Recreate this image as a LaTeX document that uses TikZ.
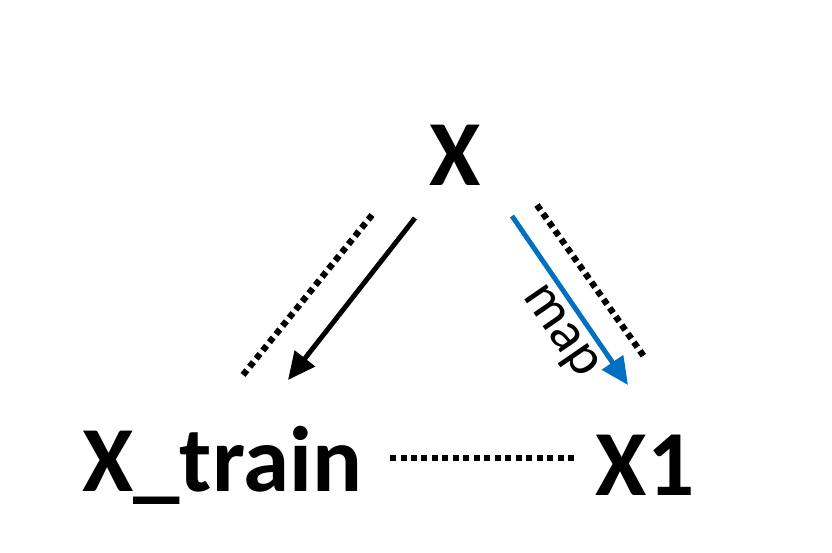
\documentclass[tikz,border=0pt]{standalone}
\usepackage{fontspec}
\setmainfont{Carlito}
\usetikzlibrary{arrows.meta}

\begin{document}
\begin{tikzpicture}[x=0.02cm,y=-0.02cm,
  lbl/.style={font=\fontsize{53}{60}\selectfont\bfseries, inner sep=0pt},
  dotline/.style={line width=3.6pt, dash pattern=on 0.12cm off 0.09cm},
  arr/.style={line width=2.8pt, -{Triangle[length=0.55cm,width=0.5cm]}}]
\useasboundingbox (0,0) rectangle (832,552);
% Define nodes
\node[lbl] (x) at (455,155) {X};
\node[lbl] (xtrain) at (222,465) {X\_train};
\node[lbl] (xone) at (645,465) {X1};

% End points
\coordinate (a1) at (415,218);
\coordinate (a2) at (288,380);
\coordinate (b1) at (512,216);
\coordinate (b2) at (628,385);
\coordinate (l1) at (372,215);
\coordinate (l2) at (243,375);
\coordinate (r1) at (537,205);
\coordinate (r2) at (645,358);
\coordinate (h1) at (390,458);
\coordinate (h2) at (578,458);

% Draw arrows
\draw[arr] (a1) -- (a2);
\draw[arr, color={rgb,255:red,0;green,112;blue,192}] (b1) -- (b2)
  node[pos=0.6, below, sloped, text=black, font=\fontsize{32}{36}\selectfont, inner sep=4pt] (maplbl) {map};
\draw[dotline] (l1) -- (l2);
\draw[dotline] (r1) -- (r2);
\draw[dotline] (h1) -- (h2);
\end{tikzpicture}
\end{document}
